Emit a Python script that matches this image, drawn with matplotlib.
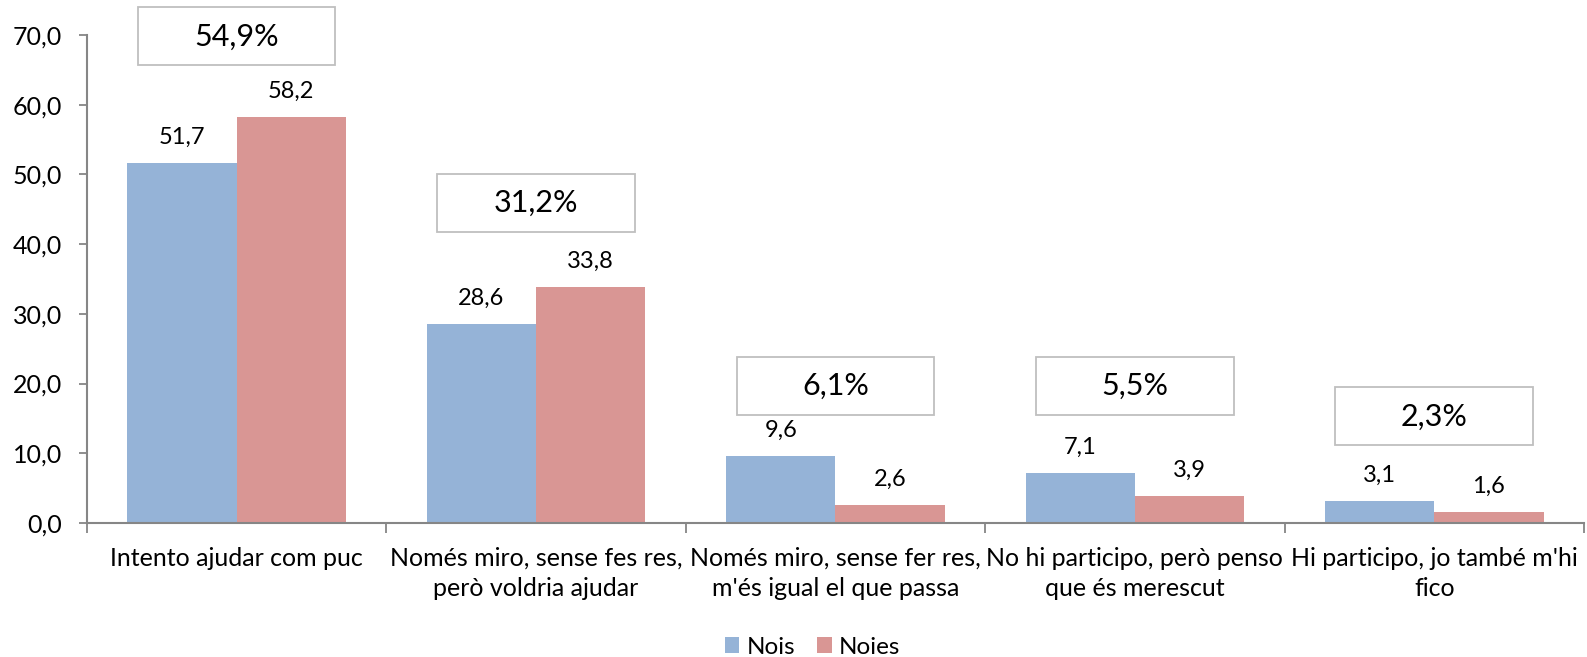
import matplotlib.pyplot as plt
from matplotlib.patches import Rectangle
import numpy as np

plt.rcParams['font.family'] = ['Lato', 'DejaVu Sans']

categories = ['Intento ajudar com puc',
              'Només miro, sense fes res,\nperò voldria ajudar',
              'Només miro, sense fer res,\nm\'és igual el que passa',
              'No hi participo, però penso\nque és merescut',
              'Hi participo, jo també m\'hi\nfico']
nois = [51.7, 28.6, 9.6, 7.1, 3.1]
noies = [58.2, 33.8, 2.6, 3.9, 1.6]
totals = ['54,9%', '31,2%', '6,1%', '5,5%', '2,3%']
box_y = [69.8, 45.9, 19.7, 19.7, 15.3]  # centre of the total boxes

c_nois = '#95B3D7'
c_noies = '#D99694'
gray = '#868686'

fig = plt.figure(figsize=(15.87, 6.57), dpi=100)
ax = fig.add_axes([0.0548, 0.204, 0.9433, 0.7427])

x = np.arange(len(categories))
w = 0.365
b1 = ax.bar(x - w/2, nois, w, color=c_nois, label='Nois')
b2 = ax.bar(x + w/2, noies, w, color=c_noies, label='Noies')

def fmt(v):
    return f'{v:.1f}'.replace('.', ',')

for bars, vals in [(b1, nois), (b2, noies)]:
    for r, v in zip(bars, vals):
        ax.annotate(fmt(v), (r.get_x() + r.get_width()/2, v), xytext=(0, 18.5),
                    textcoords='offset points', ha='center', va='center', fontsize=17)

bw, bh = 0.66, 8.3
for i, (t, yc) in enumerate(zip(totals, box_y)):
    ax.add_patch(Rectangle((i - bw/2, yc - bh/2), bw, bh, facecolor='white',
                           edgecolor='#BFBFBF', lw=1.3, clip_on=False, zorder=3))
    ax.text(i, yc, t, ha='center', va='center', fontsize=22, zorder=4)

ax.set_xlim(-0.5, len(categories) - 0.5)
ax.set_ylim(0, 70)
ax.set_yticks(np.arange(0, 71, 10))
ax.set_yticklabels([fmt(v) for v in np.arange(0, 71, 10)], fontsize=18)
ax.set_xticks(np.arange(-0.5, len(categories), 1.0))
ax.set_xticklabels([])
ax.set_xticks(x, minor=True)
ax.set_xticklabels(categories, minor=True, fontsize=18, linespacing=1.4)
ax.tick_params(axis='x', which='minor', length=0, pad=17)
ax.tick_params(axis='x', which='major', length=7, color=gray, width=1.3)
ax.tick_params(axis='y', length=6, color=gray, width=1.3, pad=12)

for s in ['top', 'right']:
    ax.spines[s].set_visible(False)
for s in ['left', 'bottom']:
    ax.spines[s].set_color(gray)
    ax.spines[s].set_linewidth(1.5)

fig.legend(handles=[b1, b2], loc='center', bbox_to_anchor=(0.512, 0.015), ncol=2,
           frameon=False, fontsize=17.5, handlelength=0.6, handleheight=0.6,
           handletextpad=0.3, columnspacing=0.9, borderpad=0)

fig.savefig('out.png', dpi=100)
